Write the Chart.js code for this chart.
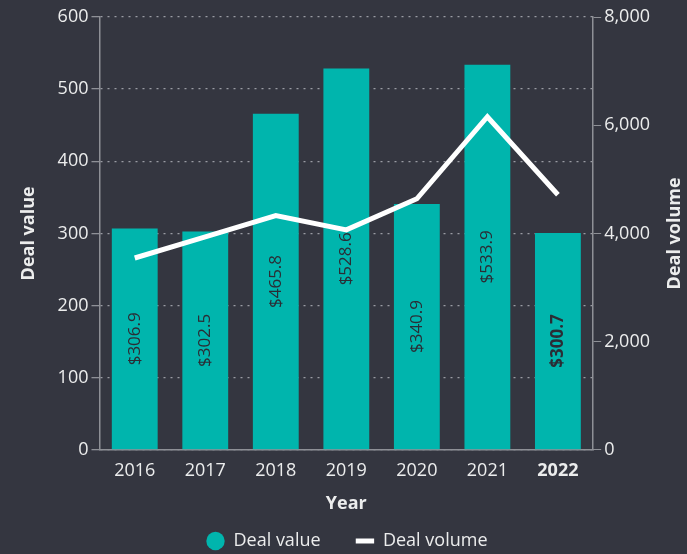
<!DOCTYPE html>
<html>
<head>
<meta charset="utf-8">
<script src="https://cdn.jsdelivr.net/npm/chart.js@4.4.1/dist/chart.umd.min.js"></script>
<style>
  html, body { margin: 0; padding: 0; background: #343640; }
  #wrap { width: 687px; height: 554px; }
</style>
</head>
<body>
<div id="wrap"><canvas id="chart"></canvas></div>
<script>
const years = ["2016", "2017", "2018", "2019", "2020", "2021", "2022"];
const dealValue = [306.9, 302.5, 465.8, 528.6, 340.9, 533.9, 300.7];
const dealVolume = [3545, 3935, 4330, 4065, 4640, 6157, 4715];
const highlightYear = "2022";

const TEXT = "#eceded";
const GRID = "#9a9ca3";
const AXIS = "#8e9096";
const TEAL = "#00b5ad";
const FONT = "'Open Sans', sans-serif";

// labels written inside the bars, rotated
const barLabels = {
  id: "barLabels",
  afterDatasetsDraw(chart) {
    const ctx = chart.ctx;
    const meta = chart.getDatasetMeta(1);
    meta.data.forEach((bar, i) => {
      const y = (bar.y + bar.base) / 2;
      ctx.save();
      ctx.translate(bar.x, y);
      ctx.rotate(-Math.PI / 2);
      ctx.fillStyle = "#2a2d35";
      const bold = years[i] === highlightYear;
      ctx.font = (bold ? "bold " : "") + "17px " + FONT;
      ctx.textAlign = "center";
      ctx.textBaseline = "middle";
      ctx.fillText("$" + dealValue[i].toFixed(1), 0, 0);
      ctx.restore();
    });
  }
};

// right axis title reads bottom-to-top like the left one
const rightTitle = {
  id: "rightTitle",
  afterDraw(chart) {
    const s = chart.scales.y1;
    const ctx = chart.ctx;
    ctx.save();
    ctx.translate(675, (s.top + s.bottom) / 2);
    ctx.rotate(-Math.PI / 2);
    ctx.fillStyle = TEXT;
    ctx.font = "bold 18px " + FONT;
    ctx.textAlign = "center";
    ctx.textBaseline = "middle";
    ctx.fillText("Deal volume", 0, 0);
    ctx.restore();
  }
};

new Chart(document.getElementById("chart"), {
  data: {
    labels: years,
    datasets: [
      {
        type: "line",
        label: "Deal volume",
        data: dealVolume,
        yAxisID: "y1",
        borderColor: "#ffffff",
        backgroundColor: "#ffffff",
        borderWidth: 5,
        pointRadius: 0,
        tension: 0,
        order: 0
      },
      {
        type: "bar",
        label: "Deal value",
        data: dealValue,
        yAxisID: "y",
        backgroundColor: TEAL,
        borderWidth: 0,
        barPercentage: 0.65,
        categoryPercentage: 1,
        order: 1
      }
    ]
  },
  options: {
    responsive: true,
    maintainAspectRatio: false,
    animation: false,
    layout: { padding: { top: 17, right: 7, left: 14, bottom: -6 } },
    plugins: {
      tooltip: { enabled: false },
      legend: {
        position: "bottom",
        labels: {
          usePointStyle: true,
          boxHeight: 13,
          color: TEXT,
          padding: 12,
          font: { family: FONT, size: 18 },
          generateLabels() {
            return [
              { text: "Deal value     ", fillStyle: TEAL, strokeStyle: TEAL, lineWidth: 0, pointStyle: "circle", fontColor: TEXT, datasetIndex: 1 },
              { text: "Deal volume", fillStyle: "#fff", strokeStyle: "#fff", lineWidth: 5, pointStyle: "line", fontColor: TEXT, datasetIndex: 0 }
            ];
          }
        }
      }
    },
    scales: {
      x: {
        grid: { display: false },
        border: { display: true, color: AXIS, width: 1.5 },
        ticks: {
          color: TEXT,
          padding: 2,
          font: (c) => ({ family: FONT, size: 18, weight: years[c.index] === highlightYear ? "bold" : "normal" })
        },
        title: { display: true, text: "Year", color: TEXT, font: { family: FONT, size: 18, weight: "bold" }, padding: { top: 10, bottom: 5 } }
      },
      y: {
        position: "left",
        min: 0,
        max: 600,
        ticks: { stepSize: 100, color: TEXT, padding: 3, font: { family: FONT, size: 18 } },
        grid: { color: GRID, tickLength: 8, tickColor: AXIS, tickBorderDash: [], lineWidth: 1.3 },
        border: { color: AXIS, width: 1.5, dash: [2, 5] },
        title: { display: true, text: "Deal value", color: TEXT, font: { family: FONT, size: 18, weight: "bold" }, padding: { top: 4, bottom: 15 } }
      },
      y1: {
        position: "right",
        min: 0,
        max: 8000,
        afterFit: (scale) => { scale.width += 27; },
        ticks: {
          stepSize: 2000,
          color: TEXT,
          padding: 3,
          font: { family: FONT, size: 18 },
          callback: (v) => v.toLocaleString("en-US")
        },
        grid: { drawOnChartArea: false, tickLength: 8, color: AXIS },
        border: { color: AXIS, width: 1.5 }
      }
    }
  },
  plugins: [barLabels, rightTitle]
});
</script>
</body>
</html>
